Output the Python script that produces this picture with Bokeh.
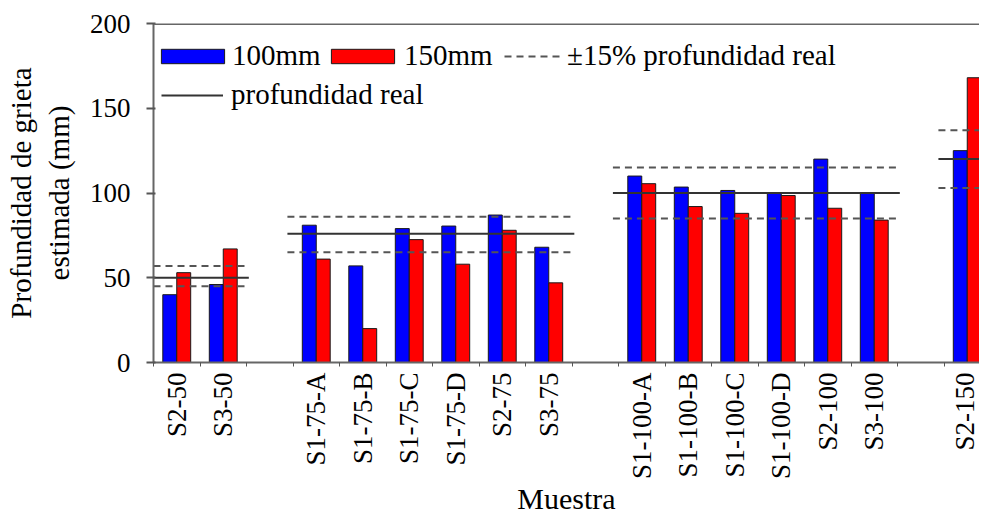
from bokeh.plotting import figure
from bokeh.models import (ColumnDataSource, FixedTicker, Legend, LegendItem, Span, Range1d)
from bokeh.embed import file_html
from bokeh.resources import INLINE

# ---------------- data ----------------
groups = [
    ["S2-50", "S3-50"],
    ["S1-75-A", "S1-75-B", "S1-75-C", "S1-75-D", "S2-75", "S3-75"],
    ["S1-100-A", "S1-100-B", "S1-100-C", "S1-100-D", "S2-100", "S3-100"],
    ["S2-150"],
]
blue_100mm = [40, 46, 81, 57, 79, 80.5, 87, 68, 110, 103.5, 101.5, 100, 120, 100, 125]
red_150mm = [53, 67, 61, 20, 72.5, 58, 78, 47, 105.5, 92, 88, 98.5, 91, 84, 168]
real_depth = [50, 76, 100, 120]
upper_15 = [57, 86, 115, 137]
lower_15 = [45, 65, 85, 103]
y_ticks = [0, 50, 100, 150, 200]

FONT = "'Liberation Serif', serif"

# ---------------- layout of slots (one blank slot between groups) ----------------
cats, centers, g_start, g_end = [], [], [], []
slot = 0
for g in groups:
    g_start.append(slot)
    for c in g:
        cats.append(c)
        centers.append(slot + 0.5)
        slot += 1
    g_end.append(slot)
    slot += 1
n_slots = slot

W, H = 979, 517
LB = 153
x_end = (W - LB) / 46.5
p = figure(width=W, height=H, output_backend="svg", toolbar_location=None,
           x_range=Range1d(0, x_end), y_range=Range1d(0, 200),
           min_border_left=LB, min_border_right=0, min_border_top=23,
           outline_line_color=None, background_fill_color="white")
p.xgrid.visible = False
p.ygrid.visible = False

bw = 0.3
src = ColumnDataSource(dict(xb=[c - bw / 2 for c in centers], xr=[c + bw / 2 for c in centers],
                            blue=blue_100mm, red=red_150mm))
rb = p.vbar(x="xb", top="blue", width=bw, source=src, fill_color="#0000FF",
            line_color="#1a1a1a", line_width=1)
rr = p.vbar(x="xr", top="red", width=bw, source=src, fill_color="#FF0000",
            line_color="#1a1a1a", line_width=1)

lsrc = ColumnDataSource(dict(
    x0=[max(s - 0.12, 0) for s in g_start],
    x1=[min(e + 0.05, x_end) if i < len(groups) - 1 else x_end + 1 for i, e in enumerate(g_end)],
    real=real_depth, up=upper_15, lo=lower_15))
rd = p.segment(x0="x0", x1="x1", y0="up", y1="up", source=lsrc, line_color="#555555",
               line_width=2, line_dash="7 5")
p.segment(x0="x0", x1="x1", y0="lo", y1="lo", source=lsrc, line_color="#555555",
          line_width=2, line_dash="7 5")
rs = p.segment(x0="x0", x1="x1", y0="real", y1="real", source=lsrc, line_color="#333333",
               line_width=2)

# top frame line
p.add_layout(Span(location=200, dimension="width", line_color="#666666", line_width=3))

# x axis
xa = p.xaxis[0]
xa.ticker = FixedTicker(ticks=centers, minor_ticks=list(range(n_slots + 1)))
xa.major_label_overrides = {c: l for c, l in zip(centers, cats)}
xa.major_label_orientation = 3.14159265 / 2
xa.major_tick_out = 0
xa.major_tick_in = 0
xa.minor_tick_out = 4
xa.minor_tick_in = 0
xa.minor_tick_line_color = "#555555"
xa.axis_line_color = "#666666"
xa.axis_line_width = 2
xa.major_label_text_font = FONT
xa.major_label_text_font_size = "27px"
xa.major_label_text_color = "black"
xa.major_label_standoff = 6
xa.axis_label = "Muestra"
xa.axis_label_text_font = FONT
xa.axis_label_text_font_size = "30px"
xa.axis_label_text_font_style = "normal"
xa.axis_label_text_color = "black"
xa.axis_label_standoff = 0

ya = p.yaxis[0]
ya.ticker = FixedTicker(ticks=y_ticks, minor_ticks=[])
ya.major_tick_out = 7
ya.major_tick_in = 2
ya.major_tick_line_color = "#555555"
ya.major_tick_line_width = 2
ya.axis_line_color = "#666666"
ya.axis_line_width = 2
ya.major_label_text_font = FONT
ya.major_label_text_font_size = "27px"
ya.major_label_text_color = "black"
ya.major_label_standoff = 16
ya.axis_label = "Profundidad de grieta\nestimada (mm)"
ya.axis_label_text_font = FONT
ya.axis_label_text_font_size = "29px"
ya.axis_label_text_font_style = "normal"
ya.axis_label_text_color = "black"
ya.axis_label_standoff = 12

common = dict(orientation="horizontal", padding=0, margin=0, spacing=0, label_height=30,
              label_text_font=FONT, label_text_font_size="29px", label_text_color="black",
              border_line_alpha=0, background_fill_alpha=0)
legends = [
    Legend(items=[LegendItem(label="100mm", renderers=[rb])], location=(0, 290),
           glyph_width=79, glyph_height=18, label_standoff=0, **common),
    Legend(items=[LegendItem(label="150mm", renderers=[rr])], location=(170, 290),
           glyph_width=79, glyph_height=18, label_standoff=2, **common),
    Legend(items=[LegendItem(label="±15% profundidad real", renderers=[rd])], location=(351, 290),
           glyph_width=60, glyph_height=18, label_standoff=3, **common),
    Legend(items=[LegendItem(label="profundidad real", renderers=[rs])], location=(8, 251),
           glyph_width=62, glyph_height=18, label_standoff=8, **common),
]
for lg in legends:
    p.add_layout(lg, "center")

open("out.html", "w").write(file_html(p, INLINE))
